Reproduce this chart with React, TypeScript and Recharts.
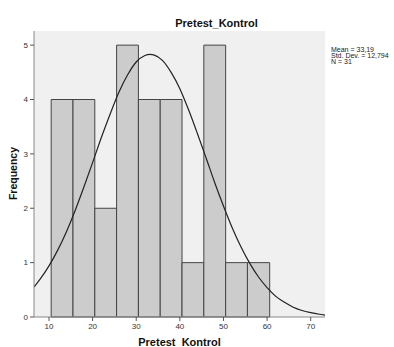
import React from 'react';
import {
  ComposedChart,
  XAxis,
  YAxis,
  Line,
  ReferenceArea,
  CartesianGrid,
} from 'recharts';

// Histogram bins (lower / upper edges) and frequencies
const binStarts = [10.5, 15.5, 20.5, 25.5, 30.5, 35.5, 40.5, 45.5, 50.5, 55.5];
const binEnds = [15.5, 20.5, 25.5, 30.5, 35.5, 40.5, 45.5, 50.5, 55.5, 60.6];
const frequencies = [4, 4, 2, 5, 4, 4, 1, 5, 1, 1];

// Normal curve (x, frequency)
const curveX = [
  6.56, 8, 10, 12, 14, 16, 18, 20, 22, 24, 26, 28, 30, 32, 33.19, 34, 36, 38, 40,
  42, 44, 46, 48, 50, 52, 54, 56, 58, 60, 62, 64, 66, 68, 70, 72, 73.28,
];
const curveY = [
  0.55, 0.7, 0.94, 1.23, 1.57, 1.96, 2.39, 2.84, 3.3, 3.73, 4.13, 4.45, 4.69,
  4.81, 4.83, 4.82, 4.72, 4.5, 4.2, 3.81, 3.38, 2.93, 2.47, 2.04, 1.64, 1.29,
  0.99, 0.74, 0.54, 0.38, 0.27, 0.18, 0.12, 0.08, 0.05, 0.035,
];

const xTicks = [10, 20, 30, 40, 50, 60, 70];
const yTicks = [0, 1, 2, 3, 4, 5];
const xDomain: [number, number] = [6.56, 73.28];
const yDomain: [number, number] = [0, 5.26];

const statsLines = ['Mean = 33,19', 'Std. Dev. = 12,794', 'N = 31'];
const title = 'Pretest_Kontrol';
const xLabel = 'Pretest_Kontrol';
const yLabel = 'Frequency';

const curveData = curveX.map((x, i) => ({ x, y: curveY[i] }));

const FONT = '"Liberation Sans", Arial, sans-serif';

export default function App() {
  return (
    <div style={{ position: 'absolute', left: 0, top: 0, width: 394, height: 347, background: '#fff' }}>
      <ComposedChart
        width={394}
        height={347}
        margin={{ top: 31, right: 69, bottom: 0, left: 0 }}
        style={{ fontFamily: FONT }}
      >
        <CartesianGrid fill="#f0f0f0" horizontal={false} vertical={false} />
        <XAxis
          xAxisId="bottom"
          dataKey="x"
          type="number"
          domain={xDomain}
          ticks={xTicks}
          allowDataOverflow
          height={30}
          axisLine={{ stroke: '#888' }}
          tickLine={{ stroke: '#555' }}
          tickSize={4}
          tick={{ fontSize: 8, fill: '#333', fontFamily: FONT }}
          label={{
            value: xLabel,
            position: 'insideBottom',
            offset: 1,
            style: { fontSize: 11, fontWeight: 'bold', fill: '#111', fontFamily: FONT },
          }}
        />
        <XAxis
          xAxisId="top"
          orientation="top"
          type="number"
          domain={xDomain}
          allowDataOverflow
          height={0}
          tick={false}
          tickLine={false}
          axisLine={{ stroke: '#888' }}
        />
        <YAxis
          yAxisId="left"
          type="number"
          domain={yDomain}
          ticks={yTicks}
          allowDataOverflow
          width={34}
          axisLine={{ stroke: '#888' }}
          tickLine={{ stroke: '#555' }}
          tickSize={4}
          tick={{ fontSize: 8, fill: '#333', fontFamily: FONT }}
        />
        <YAxis
          yAxisId="right"
          orientation="right"
          type="number"
          domain={yDomain}
          allowDataOverflow
          width={0}
          tick={false}
          tickLine={false}
          axisLine={{ stroke: '#888' }}
        />
        {frequencies.map((f, i) => (
          <ReferenceArea
            key={i}
            xAxisId="bottom"
            yAxisId="left"
            x1={binStarts[i]}
            x2={binEnds[i]}
            y1={0}
            y2={f}
            fill="#cccccc"
            fillOpacity={1}
            stroke="#444"
            strokeWidth={1}
          />
        ))}
        <Line
          xAxisId="bottom"
          yAxisId="left"
          data={curveData}
          dataKey="y"
          type="monotone"
          stroke="#222"
          strokeWidth={1.2}
          dot={false}
          activeDot={false}
          isAnimationActive={false}
        />
        <text
          x={216.5}
          y={26.5}
          textAnchor="middle"
          style={{ fontSize: 11, fontWeight: 'bold', fill: '#111', fontFamily: FONT }}
        >
          {title}
        </text>
        <text
          x={16.5}
          y={173.5}
          textAnchor="middle"
          transform="rotate(-90 16.5 173.5)"
          style={{ fontSize: 10.5, fontWeight: 'bold', fill: '#111', fontFamily: FONT }}
        >
          {yLabel}
        </text>
        {statsLines.map((s, i) => (
          <text
            key={s}
            x={331}
            y={51.5 + i * 6.3}
            style={{ fontSize: 7, fill: '#222', fontFamily: FONT }}
          >
            {s}
          </text>
        ))}
      </ComposedChart>
    </div>
  );
}
